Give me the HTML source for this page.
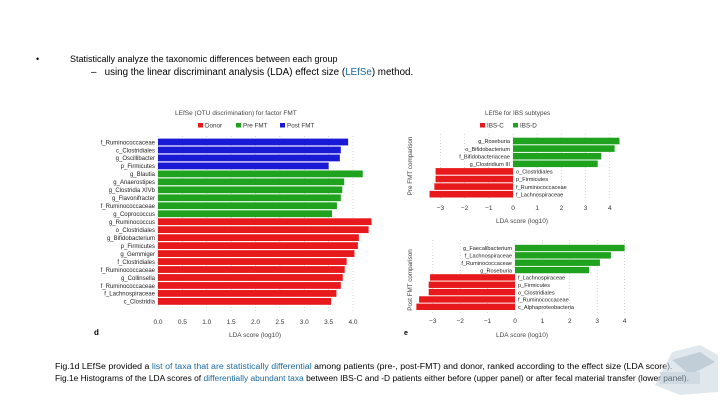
<!DOCTYPE html>
<html><head><meta charset="utf-8"><style>
body{margin:0;background:#fff;}
#wrap{position:relative;width:720px;height:405px;overflow:hidden;font-family:"Liberation Sans",sans-serif;}
.t{position:absolute;white-space:nowrap;color:#000;}
.b{color:#1a6aa0;}
</style></head><body>
<div id="wrap">
<div class="t" style="left:36px;top:54px;font-size:9px">•</div>
<div class="t" style="left:70px;top:54px;font-size:9px">Statistically analyze the taxonomic differences between each group</div>
<div class="t" style="left:91px;top:67px;font-size:9.8px">–&nbsp;&nbsp;&nbsp;using the linear discriminant analysis (LDA) effect size (<span class="b">LEfSe</span>) method.</div>
<div class="t" style="left:55px;top:362px;font-size:8px;transform:scaleX(1.1);transform-origin:left">Fig.1d LEfSe provided a <span class="b">list of taxa that are statistically differential</span> among patients (pre-, post-FMT) and donor, ranked according to the effect size (LDA score).</div>
<div class="t" style="left:55px;top:374px;font-size:8px;transform:scaleX(1.05);transform-origin:left">Fig.1e Histograms of the LDA scores of <span class="b">differentially abundant taxa</span> between IBS-C and -D patients either before (upper panel) or after fecal material transfer (lower panel).</div>
<svg id="svg" width="720" height="405" style="position:absolute;left:0;top:0" font-family="Liberation Sans, sans-serif"></svg>
</div>
<script>
// Panel d
const dLabels=["f_Ruminococcaceae","c_Clostridiales","g_Oscillibacter","p_Firmicutes","g_Blautia","g_Anaerostipes","g_Clostridia XIVb","g_Flavonifracter","f_Ruminococcaceae","g_Coprococcus","g_Ruminococcus","o_Clostridiales","g_Bifidobacterium","p_Firmicutes","g_Gemmiger","f_Clostridiales","f_Ruminococcaceae","g_Collinsella","f_Ruminococcaceae","f_Lachnospiraceae","c_Clostridia"];
const dValues=[3.9,3.75,3.73,3.5,4.2,3.82,3.78,3.75,3.67,3.57,4.38,4.32,4.12,4.1,4.03,3.87,3.83,3.79,3.75,3.66,3.55];
const dGroups=["post","post","post","post","pre","pre","pre","pre","pre","pre","donor","donor","donor","donor","donor","donor","donor","donor","donor","donor","donor"];
const dTicks=[0,0.5,1,1.5,2,2.5,3,3.5,4];
// Panel e upper
const eTopLabels=["g_Roseburia","o_Bifidobacterium","f_Bifidobacteriaceae","g_Clostridium III","o_Clostridiales","p_Firmicutes","f_Ruminococcaceae","f_Lachnospiraceae"];
const eTopValues=[4.4,4.2,3.65,3.5,-3.2,-3.2,-3.25,-3.45];
const eTopTicks=[-3,-2,-1,0,1,2,3,4];
// Panel e lower
const eBotLabels=["g_Faecalibacterium","f_Lachnospiraceae","f_Ruminococcaceae","g_Roseburia","f_Lachnospiraceae","p_Firmicutes","o_Clostridiales","f_Ruminococcaceae","c_Alphaproteobacteria"];
const eBotValues=[4.0,3.5,3.1,2.7,-3.1,-3.15,-3.15,-3.5,-3.6];
const eBotTicks=[-3,-2,-1,0,1,2,3,4];

const NS="http://www.w3.org/2000/svg";
const svg=document.getElementById('svg');
function mk(tag,attrs,parent){const e=document.createElementNS(NS,tag);for(const k in attrs)e.setAttribute(k,attrs[k]);(parent||svg).appendChild(e);return e;}
function txt(x,y,s,size,anchor,fill){const t=mk('text',{x:x,y:y,'font-size':size,'text-anchor':anchor||'start',fill:fill||'#333'});t.textContent=s;return t;}
const col={donor:"#e8191c",pre:"#1fa31f",post:"#1a1ad6",neg:"#e8191c",pos:"#1fa31f"};

// Panel d
(function(){
 const x0=158,sc=48.75,y0=142,step=7.97,bh=6.8;
 const xs=v=>x0+v*sc;
 dTicks.forEach(t=>{const l=mk('line',{x1:xs(t),x2:xs(t),y1:136,y2:312,stroke:'#bbb','stroke-dasharray':'1,2','stroke-width':0.6});
 
 const tl=txt(xs(t),324,t.toFixed(1),6.5,'middle');});
 dLabels.forEach((lab,i)=>{const y=y0+i*step;
  const r=mk('rect',{x:x0,y:y-bh/2,width:xs(dValues[i])-x0,height:bh,fill:col[dGroups[i]]});
  
  const t=txt(x0-3,y+2.3,lab,6,'end','#222');});
 const tt=txt(175,115,"LEfSe (OTU discrimination) for factor FMT",6.5,'start','#444');
 [["Donor","donor",205],["Pre FMT","pre",243],["Post FMT","post",287]].forEach(([n,g,x])=>{
  const r=mk('rect',{x:x-7,y:123,width:5,height:4.5,fill:col[g]});
  const t=txt(x,127.5,n,6.3,'start','#333');});
 const xl=txt(255,337,"LDA score (log10)",6.5,'middle','#444');
 const dl=txt(94,335,"d",8,'start','#000');dl.setAttribute('font-weight','bold');
})();

function panelE(labels,values,ticks,x0,sc,y0,step,bh,gTop,gBot,tickY,prefix){
 const xs=v=>x0+v*sc;
 ticks.forEach(t=>{const l=mk('line',{x1:xs(t),x2:xs(t),y1:gTop,y2:gBot,stroke:'#bbb','stroke-dasharray':'1,2','stroke-width':0.6});
  
  const tl=txt(xs(t),tickY,t<0?"−"+(-t):String(t),6.5,'middle');});
 labels.forEach((lab,i)=>{const y=y0+i*step,v=values[i];
  const r=mk('rect',{x:Math.min(x0,xs(v)),y:y-bh/2,width:Math.abs(xs(v)-x0),height:bh,fill:v<0?col.neg:col.pos});
  
  const t=v<0?txt(x0+3,y+2.2,lab,5.6,'start','#222'):txt(x0-3,y+2.2,lab,5.6,'end','#222');
  });
}
panelE(eTopLabels,eTopValues,eTopTicks,513,24.2,141,7.6,6.6,134,199,210,'e-top');
panelE(eBotLabels,eBotValues,eBotTicks,515,27.4,248,7.35,6.4,240,313,323,'e-bottom');
(function(){
 const tt=txt(485,115,"LEfSe for IBS subtypes",6.3,'start','#444');
 [["IBS-C","neg",487],["IBS-D","pos",520]].forEach(([n,g,x])=>{
  const r=mk('rect',{x:x-7,y:123,width:5,height:4.5,fill:col[g]});
  const t=txt(x,127.5,n,6.3,'start','#333');});
 const a=txt(522,223,"LDA score (log10)",6.5,'middle','#444');
 const b=txt(522,337,"LDA score (log10)",6.5,'middle','#444');
 const c=txt(0,0,"Pre FMT comparison",6.3,'middle','#444');c.setAttribute('transform','translate(412,166) rotate(-90)');
 const d=txt(0,0,"Post FMT comparison",6.3,'middle','#444');d.setAttribute('transform','translate(412,280) rotate(-90)');
 const e=txt(404,335,"e",7,'start','#000');e.setAttribute('font-weight','bold');
 const g=mk('g',{opacity:0.55});
 mk('polygon',{points:'655,385 672,352 700,345 718,355 718,392 680,395',fill:'#c9d6e0'},g);
 mk('polygon',{points:'672,360 700,352 715,362 690,375',fill:'#8fa6b8'},g);
 mk('rect',{x:660,y:372,width:40,height:12,fill:'#a9bccb'},g);
})();
</script>
</body></html>
